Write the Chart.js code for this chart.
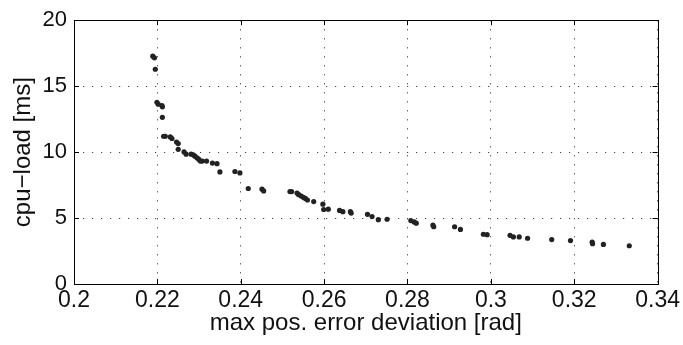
<!DOCTYPE html>
<html>
<head>
<meta charset="utf-8">
<script src="https://cdn.jsdelivr.net/npm/chart.js@4/dist/chart.umd.min.js"></script>
<style>
    html, body { margin: 0; padding: 0; background: #fff; }
    #wrap { width: 683px; height: 345px; }
</style>
</head>
<body>
<div id="wrap"><canvas id="grafico"></canvas></div>
<script>
// Desvio máximo do erro de posição (rad) para cada configuração
const desvio = [
    0.2189, 0.2193, 0.2195, 0.2199, 0.2202, 0.2211, 0.2212, 0.2212,
    0.2215, 0.2219, 0.2231, 0.2235, 0.2246, 0.2250, 0.2250, 0.2264,
    0.2269, 0.2281, 0.2286, 0.2290, 0.2295, 0.2299, 0.2303, 0.2308,
    0.2318, 0.2332, 0.2343, 0.2350, 0.2386, 0.2398, 0.2418, 0.2451,
    0.2455, 0.2518, 0.2522, 0.2535, 0.2539, 0.2545, 0.2550, 0.2555,
    0.2560, 0.2575, 0.2597, 0.2599, 0.2610, 0.2637, 0.2645, 0.2663,
    0.2665, 0.2704, 0.2715, 0.2730, 0.2751, 0.2808, 0.2816, 0.2821,
    0.2861, 0.2863, 0.2913, 0.2927, 0.2982, 0.2991, 0.3046, 0.3054,
    0.3068, 0.3088, 0.3146, 0.3191, 0.3243, 0.3244, 0.3270, 0.3332
];

// Carga de CPU correspondente (ms)
const cargaCpu = [
    17.27, 17.15, 16.28, 13.78, 13.63, 13.53, 13.43, 12.64,
    11.20, 11.20, 11.15, 11.03, 10.76, 10.65, 10.21, 10.01,
    9.84, 9.84, 9.79, 9.69, 9.57, 9.46, 9.32, 9.32,
    9.32, 9.17, 9.12, 8.50, 8.53, 8.42, 7.24, 7.19,
    7.06, 7.01, 7.01, 6.89, 6.77, 6.67, 6.57, 6.49,
    6.37, 6.25, 6.05, 5.65, 5.67, 5.58, 5.48, 5.48,
    5.38, 5.28, 5.11, 4.88, 4.91, 4.81, 4.71, 4.61,
    4.46, 4.34, 4.34, 4.14, 3.77, 3.74, 3.69, 3.57,
    3.57, 3.47, 3.37, 3.29, 3.17, 3.05, 3.00, 2.90
];

// Marcas dos eixos
const xTicks = [0.2, 0.22, 0.24, 0.26, 0.28, 0.3, 0.32, 0.34];
const xTickLabels = ['0.2', '0.22', '0.24', '0.26', '0.28', '0.3', '0.32', '0.34'];
const yTicks = [0, 5, 10, 15, 20];
const yTickLabels = ['0', '5', '10', '15', '20'];

const fonte = "'Liberation Sans', Arial, Helvetica, sans-serif";
const fonteEstreita = "'Liberation Sans Narrow', 'Arial Narrow', 'Liberation Sans', Arial, sans-serif";

// Moldura preta e marcas internas nos quatro lados (estilo MATLAB)
const molduraPlugin = {
    id: 'moldura',
    afterDraw(chart) {
        const { ctx, chartArea: a, scales } = chart;
        const tam = 5;
        ctx.save();
        ctx.strokeStyle = '#000';
        ctx.lineWidth = 1;
        ctx.beginPath();
        xTicks.forEach(v => {
            const px = Math.round(scales.x.getPixelForValue(v)) + 0.5;
            ctx.moveTo(px, a.bottom); ctx.lineTo(px, a.bottom - tam);
            ctx.moveTo(px, a.top); ctx.lineTo(px, a.top + tam);
        });
        yTicks.forEach(v => {
            const py = Math.round(scales.y.getPixelForValue(v)) + 0.5;
            ctx.moveTo(a.left, py); ctx.lineTo(a.left + tam, py);
            ctx.moveTo(a.right, py); ctx.lineTo(a.right - tam, py);
        });
        ctx.stroke();
        ctx.strokeRect(Math.round(a.left) + 0.5, Math.round(a.top) + 0.5,
            Math.round(a.right - a.left), Math.round(a.bottom - a.top));
        ctx.restore();
    }
};

const ctx = document.getElementById('grafico').getContext('2d');
new Chart(ctx, {
    type: 'scatter',
    data: {
        datasets: [{
            data: desvio.map((x, i) => ({ x: x, y: cargaCpu[i] })),
            backgroundColor: '#222',
            borderWidth: 0,
            pointRadius: 2.6,
            pointHoverRadius: 2.6
        }]
    },
    options: {
        responsive: true,
        maintainAspectRatio: false,
        animation: false,
        layout: { padding: { top: 15, right: 22, left: 0, bottom: 0 } },
        plugins: {
            legend: { display: false },
            tooltip: { enabled: false }
        },
        scales: {
            x: {
                type: 'linear',
                min: 0.2,
                max: 0.34,
                afterBuildTicks: scale => { scale.ticks = xTicks.map(v => ({ value: v })); },
                afterFit: scale => { scale.height = 61; },
                ticks: {
                    autoSkip: false,
                    maxRotation: 0,
                    padding: 3,
                    color: '#111',
                    font: { family: fonteEstreita, size: 23 },
                    callback: (v, i) => xTickLabels[i]
                },
                grid: { color: '#444', lineWidth: 1, drawTicks: false },
                border: { display: false, dash: [1.2, 7.8] },
                title: {
                    display: true,
                    text: 'max pos. error deviation [rad]',
                    color: '#111',
                    font: { family: fonte, size: 24 },
                    padding: { top: 0, bottom: 7 }
                }
            },
            y: {
                type: 'linear',
                min: 0,
                max: 20,
                afterBuildTicks: scale => { scale.ticks = yTicks.map(v => ({ value: v })); },
                afterFit: scale => { scale.width = 74; },
                ticks: {
                    autoSkip: false,
                    padding: 7,
                    color: '#111',
                    font: { family: fonteEstreita, size: 22 },
                    callback: (v, i) => yTickLabels[i]
                },
                grid: { color: '#444', lineWidth: 1, drawTicks: false },
                border: { display: false, dash: [1.2, 7.8] },
                title: {
                    display: true,
                    text: 'cpu\u2212load [ms]',
                    color: '#111',
                    font: { family: fonte, size: 24 },
                    padding: { top: 9, bottom: 0 }
                }
            }
        }
    },
    plugins: [molduraPlugin]
});
</script>
</body>
</html>
